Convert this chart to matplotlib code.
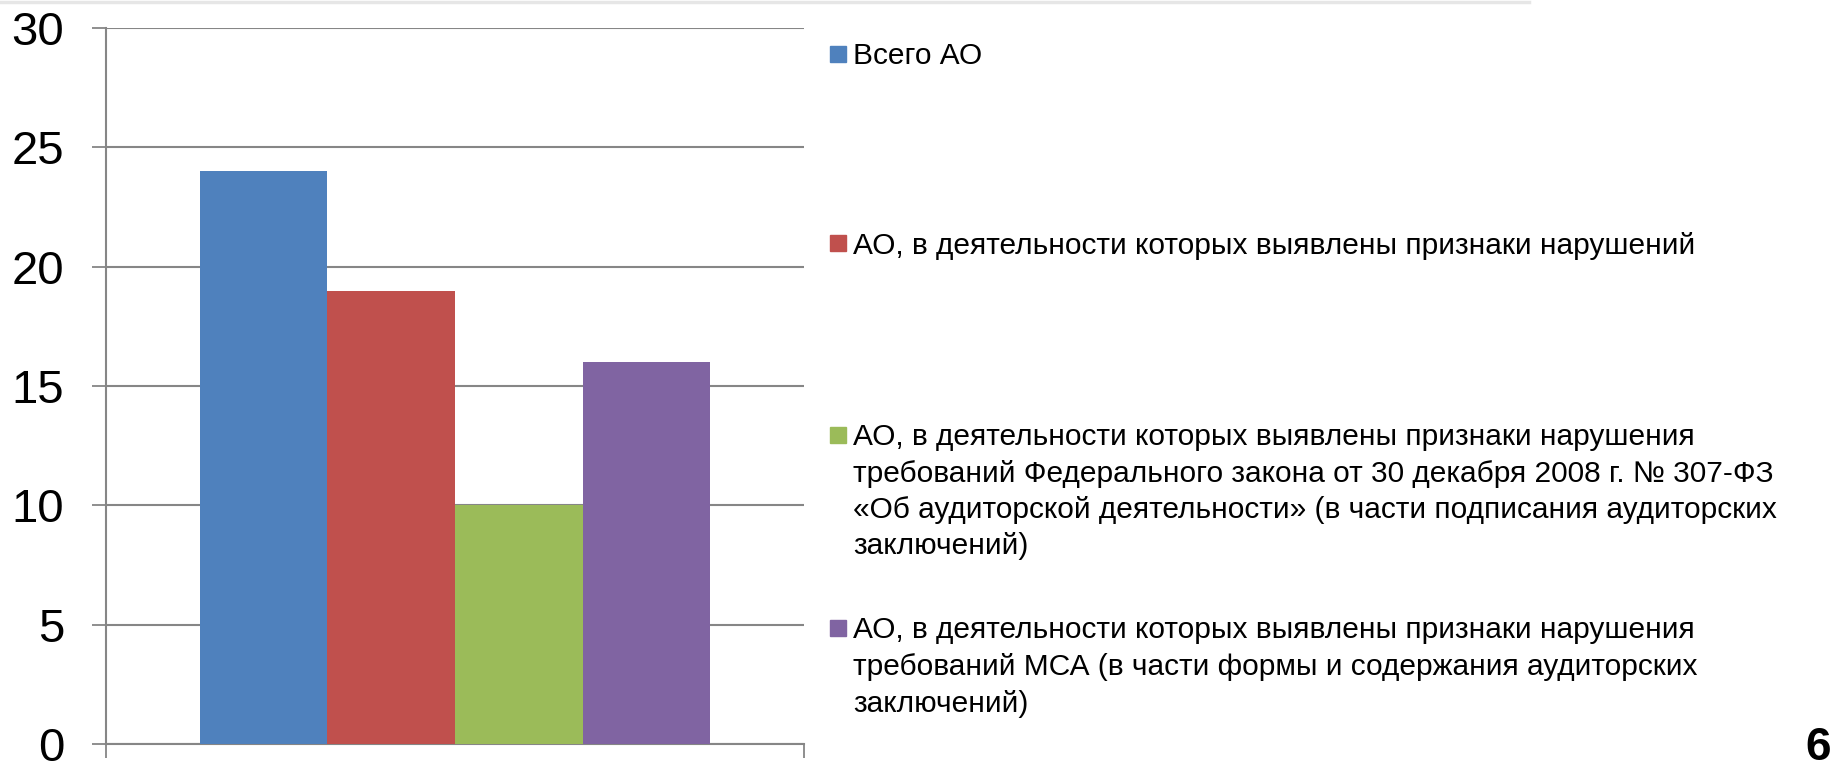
import numpy as np
import matplotlib.pyplot as plt
from matplotlib.patches import Rectangle

plt.rcParams['font.family'] = ['Liberation Sans', 'DejaVu Sans']

# данные
labels = [
    "Всего АО",
    "АО, в деятельности которых выявлены признаки нарушений",
    "АО, в деятельности которых выявлены признаки нарушения\n"
    "требований Федерального закона от 30 декабря 2008 г. № 307-ФЗ\n"
    "«Об аудиторской деятельности» (в части подписания аудиторских\n"
    "заключений)",
    "АО, в деятельности которых выявлены признаки нарушения\n"
    "требований МСА (в части формы и содержания аудиторских\n"
    "заключений)",
]
values = [24, 19, 10, 16]
colors = ["#4F81BD", "#C0504D", "#9BBB59", "#8064A2"]
yticks = [0, 5, 10, 15, 20, 25, 30]

W, H = 1849, 761
fig = plt.figure(figsize=(W / 100, H / 100), dpi=100)
ax = fig.add_axes([106 / W, 1 - 744 / H, (804 - 106) / W, (744 - 28) / H])

bw = 0.183
n = len(values)
xs = 0.5 + (np.arange(n) - (n - 1) / 2) * bw
ax.bar(xs, values, width=bw, color=colors, zorder=3)

ax.set_xlim(0, 1)
ax.set_ylim(0, 30)
ax.set_yticks(yticks)
ax.set_yticklabels([str(v) for v in yticks], fontsize=34)
ax.set_xticks([0, 1])
ax.set_xticklabels([])
ax.tick_params(axis='y', length=10, width=1.3, color='#868686', pad=20)
ax.tick_params(axis='x', direction='out', length=10, width=1.3, color='#868686')
ax.yaxis.grid(True, color='#868686', linewidth=1.5, zorder=0)
for s in ['top', 'right']:
    ax.spines[s].set_visible(False)
for s in ['left', 'bottom']:
    ax.spines[s].set_color('#868686')
    ax.spines[s].set_linewidth(1.5)

# легенда (центры заглавных букв первой строки)
entry_y = [53.5, 243, 434.5, 628]
line_h = 36.5
for lab, col, y0 in zip(labels, colors, entry_y):
    fig.add_artist(Rectangle((830 / W, 1 - (y0 + 8) / H), 16 / W, 16 / H,
                             transform=fig.transFigure, color=col))
    for i, line in enumerate(lab.split("\n")):
        fig.text(853 / W, 1 - (y0 + 10.5 + i * line_h) / H, line,
                 fontsize=21.5, va='baseline', ha='left')

# номер слайда
fig.text(1831 / W, 1 - 760 / H, "6", fontsize=33, fontweight='bold',
         ha='right', va='baseline')

# тень сверху
fig.add_artist(plt.Line2D([0, 1529 / W], [1 - 1.5 / H, 1 - 1.5 / H],
                          transform=fig.transFigure, color='#e6e6e6', lw=2.5))

fig.savefig("out.png", dpi=100)
